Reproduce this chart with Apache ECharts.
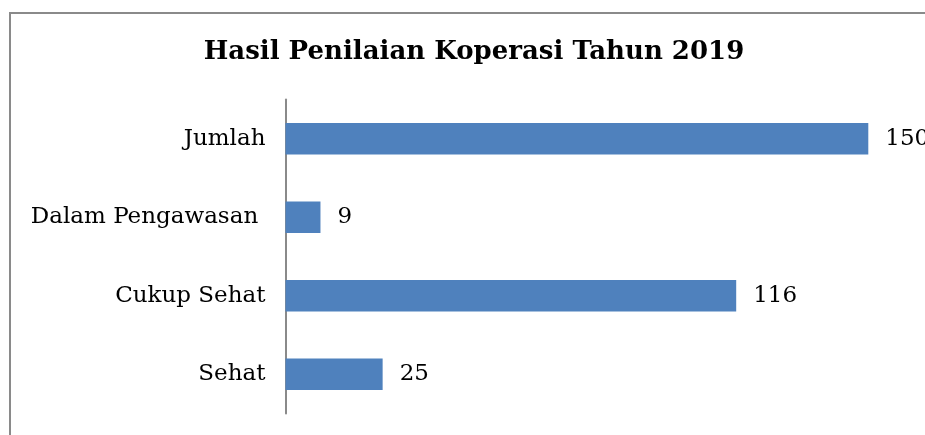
<!DOCTYPE html>
<html>
<head>
<meta charset="utf-8">
<script src="https://cdn.jsdelivr.net/npm/echarts@6/dist/echarts.min.js"></script>
<style>
html,body{margin:0;padding:0;background:#fff;}
#c{width:925px;height:435px;}
</style>
</head>
<body>
<div id="c"></div>
<script>
var titleText = 'Hasil Penilaian Koperasi Tahun 2019';
var categories = ['Jumlah', 'Dalam Pengawasan ', 'Cukup Sehat', 'Sehat'];
var values = [150, 9, 116, 25];

var chart = echarts.init(document.getElementById('c'), null, {renderer: 'canvas'});
var serif = '"DejaVu Serif", "Liberation Serif", serif';
chart.setOption({
  animation: false,
  backgroundColor: '#fff',
  title: {
    text: titleText,
    left: 469, textAlign: 'center',
    top: 34,
    textStyle: {fontFamily: serif, fontWeight: 'bold', fontSize: 26, color: '#000'}
  },
  graphic: [{
    type: 'rect', silent: true, z: 0,
    shape: {x: 10, y: 13, width: 1000, height: 1000},
    style: {fill: 'none', stroke: '#8a8a8a', lineWidth: 2}
  }],
  grid: {left: 285.5, right: 56.7, top: 99.5, bottom: 21.5, containLabel: false},
  xAxis: {
    type: 'value', min: 0, max: 150,
    show: false
  },
  yAxis: {
    type: 'category', data: categories, inverse: true,
    axisLine: {show: true, lineStyle: {color: '#8a8a8a', width: 2}},
    axisTick: {show: false},
    axisLabel: {margin: 20, fontFamily: serif, fontSize: 23, color: '#000'},
    splitLine: {show: false}
  },
  series: [{
    type: 'bar', data: values,
    barCategoryGap: '60%',
    itemStyle: {color: '#4f81bd'},
    label: {show: true, position: 'right', distance: 17, fontFamily: serif, fontSize: 23, color: '#000'}
  }]
});
</script>
</body>
</html>
